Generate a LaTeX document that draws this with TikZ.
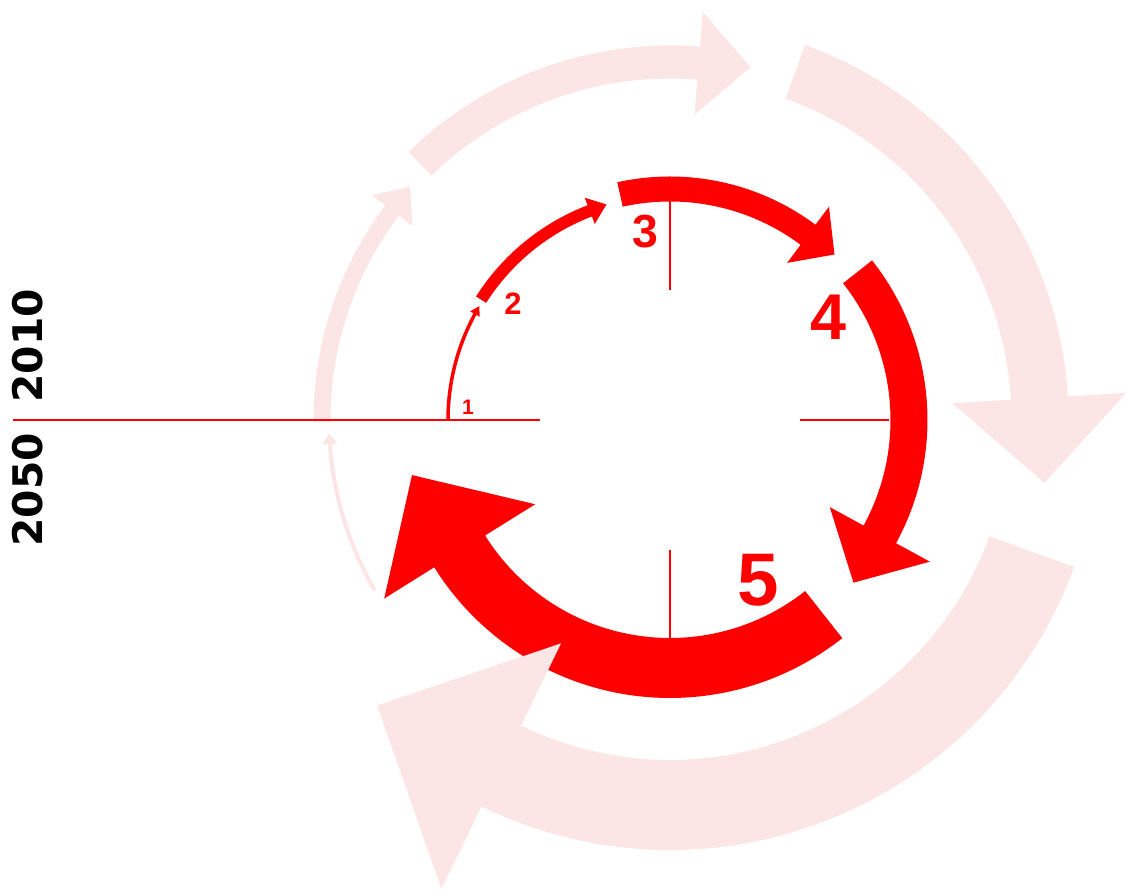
\documentclass[tikz,border=0pt]{standalone}
\usepackage{fontspec}
\usepackage{xcolor}
\usepackage{tikz}
\usetikzlibrary{calc}
\newfontfamily\numfont{Liberation Sans}
\newfontfamily\yearfont{DejaVu Sans}
\definecolor{cycleRed}{HTML}{FF0000}
\definecolor{cyclePink}{RGB}{252,229,229}
% #1 colour, #2 radius, #3 tail angle, #4 head angle, #5 width, #6 head width, #7 head length
\providecommand{\bentarrow}[7]{%
  \fill[#1] ($(C)+(#3:{#2+#5/2})$) arc[start angle=#3,end angle=#4,radius={#2+#5/2}]
    -- ($(C)+(#4:{#2+#6/2})$) -- ($(C)+(#4:#2)+({#4-90}:#7)$)
    -- ($(C)+(#4:{#2-#6/2})$) -- ($(C)+(#4:{#2-#5/2})$)
    arc[start angle=#4,end angle=#3,radius={#2-#5/2}] -- cycle;}

\begin{document}
\begin{tikzpicture}[
    x=0.025cm, y=0.025cm,
    tick/.style={draw=cycleRed,line width=1.4pt},
    num/.style={text=cycleRed,inner sep=0pt,font=\numfont\bfseries},
    year/.style={text=black,inner sep=0pt,rotate=90,
                 font=\yearfont\bfseries\fontsize{29}{29}\selectfont}
  ]
  \useasboundingbox (0,0) rectangle (1127,891);
  \coordinate (C) at (670,471);
  % inner cycle
  \bentarrow{cycleRed}{222}{180}{151.5}{3.5}{11}{9}
  \bentarrow{cycleRed}{224}{147.5}{111}{12}{28}{18}
  \bentarrow{cycleRed}{231}{102.5}{53.3}{25}{70}{33}
  \bentarrow{cycleRed}{239}{38.3}{-28.6}{37}{114}{55}
  \bentarrow{cycleRed}{248}{-51.7}{-148}{60}{178}{90}
  % outer cycle
  \bentarrow{cyclePink}{341}{210}{184}{4}{15}{10}
  \bentarrow{cyclePink}{348}{180.3}{143}{17}{51}{30}
  \bentarrow{cyclePink}{358}{134.3}{85.4}{33}{103}{52}
  \bentarrow{cyclePink}{370}{70.2}{3.4}{57}{174}{85}
  \bentarrow{cyclePink}{385}{-20}{-116}{90}{273}{138}
  % axis and ticks
  \coordinate (axisEnd) at (13,471);
  \draw[tick] ($(C)+(180:130)$) -- (axisEnd);
  \foreach \a in {90,0,270}
    \draw[tick] ($(C)+(\a:130)$) -- ($(C)+(\a:219)$);
  \node[year] (y2010) at (28,545) {2010};
  \node[year] (y2050) at (28,401) {2050};
  % step numbers
  \node[num,font=\numfont\bfseries\fontsize{15}{15}\selectfont] (s1) at (468,484) {1};
  \node[num,font=\numfont\bfseries\fontsize{22}{22}\selectfont] (s2) at (513,587) {2};
  \node[num,font=\numfont\bfseries\fontsize{33}{33}\selectfont] (s3) at (645,659) {3};
  \node[num,font=\numfont\bfseries\fontsize{46}{46}\selectfont] (s4) at (828,574) {4};
  \node[num,font=\numfont\bfseries\fontsize{53}{53}\selectfont] (s5) at (758,311) {5};
\end{tikzpicture}
\end{document}
